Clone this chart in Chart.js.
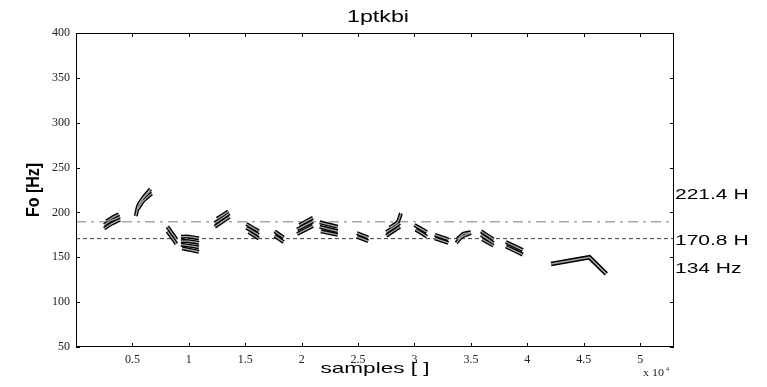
<!DOCTYPE html>
<html>
<head>
<meta charset="utf-8">
<script src="https://cdn.jsdelivr.net/npm/chart.js@4.4.1/dist/chart.umd.min.js"></script>
<style>
  html, body { margin: 0; padding: 0; background: #fff; }
  canvas { display: block; }
</style>
</head>
<body>
<canvas id="c" width="767" height="387"></canvas>
<script>
// ---- Data (x in samples x 10^4, y in Hz) ----
const titleText = '1ptkbi';
const yAxisTitle = 'Fo [Hz]';
const xAxisTitle = 'samples [ ]';
const xTicks = [0.5, 1, 1.5, 2, 2.5, 3, 3.5, 4, 4.5, 5];
const xTickLabels = ['0.5', '1', '1.5', '2', '2.5', '3', '3.5', '4', '4.5', '5'];
const yTicks = [50, 100, 150, 200, 250, 300, 350, 400];
const yTickLabels = ['50', '100', '150', '200', '250', '300', '350', '400'];
const rightLabels = ['221.4 H', '170.8 H', '134 Hz'];
const meanLevel = 170.8;
const dashDotLevel = 189.6;

// F0 contour segments, each a set of parallel strokes [[x, y], ...]
const seg01 = [[[0.25,182],[0.31,187],[0.39,192]], [[0.25,186],[0.31,191],[0.39,195]], [[0.27,190],[0.32,194],[0.38,198]]];
const seg02 = [[[0.53,196],[0.55,207],[0.59,215],[0.66,224]], [[0.55,204],[0.59,212],[0.67,221]], [[0.56,209],[0.60,217],[0.66,226]]];
const seg03 = [[[0.81,184],[0.85,177],[0.89,170]], [[0.81,179],[0.85,172],[0.89,165]]];
const seg04 = [[[0.93,173],[1.00,173],[1.09,171]], [[0.93,168],[1.00,168],[1.09,166]], [[0.93,164],[1.00,163],[1.09,161]], [[0.94,160],[1.02,158],[1.09,156]]];
const seg05 = [[[1.23,184],[1.36,195]], [[1.23,188],[1.36,199]], [[1.25,193],[1.35,201]]];
const seg06 = [[[1.51,187],[1.62,179]], [[1.51,183],[1.62,175]], [[1.53,178],[1.62,171]]];
const seg07 = [[[1.76,179],[1.84,172]], [[1.76,174],[1.84,167]]];
const seg08 = [[[1.96,176],[2.10,185]], [[1.96,181],[2.10,190]], [[1.98,186],[2.10,194]]];
const seg09 = [[[2.16,189],[2.32,184]], [[2.16,184],[2.32,179]], [[2.17,179],[2.32,175]]];
const seg10 = [[[2.49,177],[2.59,172]], [[2.49,173],[2.59,168]]];
const seg11 = [[[2.75,174],[2.87,184]], [[2.75,178],[2.87,188]], [[2.78,183],[2.85,189],[2.88,199]]];
const seg12 = [[[3.00,186],[3.11,178]], [[3.01,181],[3.11,173]]];
const seg13 = [[[3.18,175],[3.30,170]], [[3.18,171],[3.30,166]]];
const seg14 = [[[3.37,166],[3.42,173],[3.50,177]], [[3.38,170],[3.43,176],[3.50,178]]];
const seg15 = [[[3.59,179],[3.70,170]], [[3.59,175],[3.70,166]], [[3.60,170],[3.70,163]]];
const seg16 = [[[3.81,167],[3.96,158]], [[3.81,162],[3.96,153]]];
const seg17 = [[[4.21,142.5],[4.55,150],[4.70,131.5]]];

const segments = [seg01, seg02, seg03, seg04, seg05, seg06, seg07, seg08, seg09,
                  seg10, seg11, seg12, seg13, seg14, seg15, seg16, seg17];

// ---- Build datasets ----
const datasets = [];
const xMin = 0, xMax = 5.3;
datasets.push({
  data: [{x: xMin, y: dashDotLevel}, {x: xMax, y: dashDotLevel}],
  borderColor: '#a8a8a8', borderWidth: 1.3, borderDash: [10, 5, 3, 5],
  pointRadius: 0, showLine: true, order: 5
});
datasets.push({
  data: [{x: xMin, y: meanLevel}, {x: xMax, y: meanLevel}],
  borderColor: '#3a3a3a', borderWidth: 1, borderDash: [4, 3],
  pointRadius: 0, showLine: true, order: 5
});
segments.forEach(seg => {
  const single = seg.length === 1;
  seg.forEach(stroke => {
    const pts = stroke.map(p => ({x: p[0], y: p[1]}));
    datasets.push({ data: pts, borderColor: '#000', borderWidth: single ? 4.6 : 4,
      pointRadius: 0, showLine: true, tension: single ? 0 : 0.2, order: 2, borderCapStyle: 'butt' });
    datasets.push({ data: pts, borderColor: '#a6a6a6', borderWidth: single ? 1.6 : 1.3,
      pointRadius: 0, showLine: true, tension: single ? 0 : 0.2, order: 1, borderCapStyle: 'butt' });
  });
});

// ---- Decorations plugin: frame, inward ticks, texts ----
function stretchedText(ctx, text, x, y, sx, align) {
  ctx.save();
  ctx.translate(x, y);
  ctx.scale(sx, 1);
  ctx.textAlign = align;
  ctx.fillText(text, 0, 0);
  ctx.restore();
}
const decor = {
  id: 'decor',
  afterDraw(chart) {
    const ctx = chart.ctx;
    const a = chart.chartArea;
    const xs = chart.scales.x, ys = chart.scales.y;
    ctx.save();
    ctx.strokeStyle = '#000';
    ctx.lineWidth = 1;
    ctx.strokeRect(a.left + 0.5, a.top + 0.5, a.right - a.left - 1, a.bottom - a.top - 1);
    const tl = 4;
    ctx.beginPath();
    xTicks.forEach(v => {
      const px = Math.round(xs.getPixelForValue(v)) + 0.5;
      ctx.moveTo(px, a.bottom); ctx.lineTo(px, a.bottom - tl);
      ctx.moveTo(px, a.top); ctx.lineTo(px, a.top + tl);
    });
    yTicks.forEach(v => {
      const py = Math.round(ys.getPixelForValue(v)) + 0.5;
      ctx.moveTo(a.left, py); ctx.lineTo(a.left + tl, py);
      ctx.moveTo(a.right, py); ctx.lineTo(a.right - tl, py);
    });
    ctx.stroke();

    ctx.fillStyle = '#000';
    ctx.textBaseline = 'middle';
    ctx.font = '16px "Liberation Sans", Arial, sans-serif';
    stretchedText(ctx, titleText, (a.left + a.right) / 2 + 3, 18, 1.45, 'center');

    ctx.font = '15px "Liberation Sans", Arial, sans-serif';
    stretchedText(ctx, xAxisTitle, (a.left + a.right) / 2, 369, 1.5, 'center');

    ctx.save();
    ctx.translate(34, (a.top + a.bottom) / 2);
    ctx.rotate(-Math.PI / 2);
    ctx.scale(1, 1.2);
    ctx.font = 'bold 16px "Liberation Sans", Arial, sans-serif';
    ctx.textAlign = 'center';
    ctx.fillText(yAxisTitle, 0, 0);
    ctx.restore();

    ctx.font = '14px "Liberation Sans", Arial, sans-serif';
    const rightY = [195, 241, 269];
    rightLabels.forEach((t, i) => stretchedText(ctx, t, a.right + 1, rightY[i], 1.5, 'left'));

    ctx.fillStyle = '#222';
    ctx.textBaseline = 'alphabetic';
    ctx.font = '10px "Liberation Serif", "Times New Roman", serif';
    stretchedText(ctx, 'x 10', 643, 376, 1.2, 'left');
    ctx.font = '6px "Liberation Serif", serif';
    ctx.fillText('4', 666, 371);
    ctx.restore();
  }
};

new Chart(document.getElementById('c'), {
  type: 'scatter',
  data: { datasets },
  plugins: [decor],
  options: {
    responsive: false,
    animation: false,
    devicePixelRatio: 1,
    layout: { padding: { left: 0, right: 93, top: 33, bottom: 0 } },
    plugins: { legend: { display: false }, tooltip: { enabled: false }, title: { display: false } },
    scales: {
      x: {
        type: 'linear', min: xMin, max: xMax,
        afterBuildTicks: s => { s.ticks = xTicks.map(v => ({value: v})); },
        afterFit: s => { s.height = 40; },
        grid: { display: false, drawTicks: false },
        border: { display: false },
        ticks: {
          padding: 6, color: '#222', maxRotation: 0, autoSkip: false,
          font: { family: '"Liberation Serif", "Times New Roman", serif', size: 12 },
          callback: (v, i) => xTickLabels[i]
        }
      },
      y: {
        type: 'linear', min: 50, max: 400,
        afterBuildTicks: s => { s.ticks = yTicks.map(v => ({value: v})); },
        afterFit: s => { s.width = 76; },
        grid: { display: false, drawTicks: false },
        border: { display: false },
        ticks: {
          padding: 6, color: '#222', autoSkip: false,
          font: { family: '"Liberation Serif", "Times New Roman", serif', size: 12 },
          callback: (v, i) => yTickLabels[i]
        }
      }
    }
  }
});
</script>
</body>
</html>
